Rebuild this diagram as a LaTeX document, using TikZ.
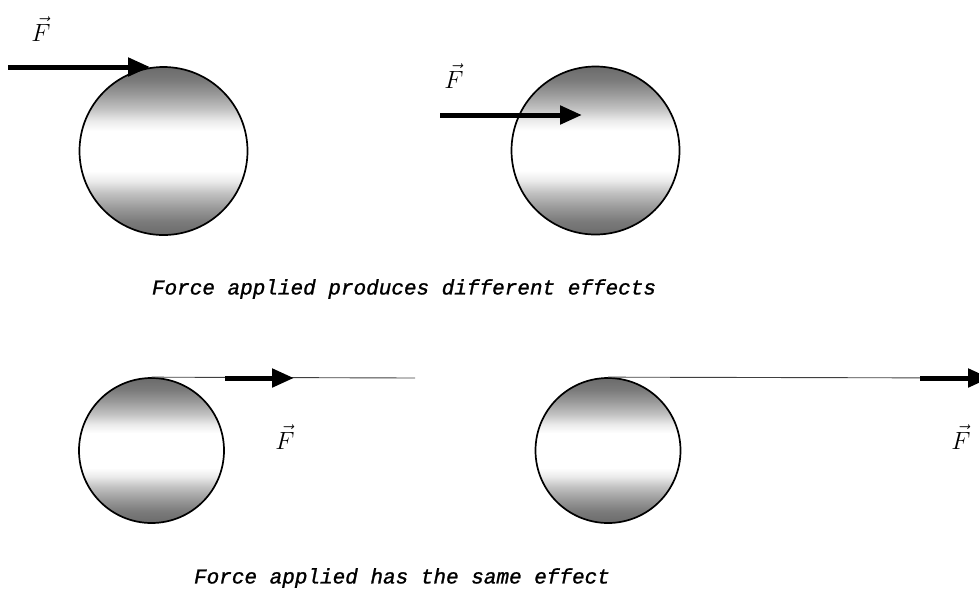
\documentclass[tikz,border=0pt]{standalone}
\usepackage{fontspec}
\newfontfamily\capfont[FakeBold=1.2]{Liberation Mono}
\usetikzlibrary{arrows.meta}
\pgfdeclareverticalshading{ballshade}{100bp}{color(0bp)=(black!58); color(25bp)=(black!58); color(29bp)=(black!52); color(33bp)=(black!40); color(37.5bp)=(black!24); color(41bp)=(black!8); color(44bp)=(white); color(56bp)=(white); color(59bp)=(black!8); color(62.5bp)=(black!24); color(67bp)=(black!40); color(71bp)=(black!52); color(75bp)=(black!58); color(100bp)=(black!58)}
\tikzset{
  ball/.style={circle, draw=black, line width=1.7pt, shading=ballshade, inner sep=0pt},
  force/.style={line width=5pt, -{Triangle[length=22pt,width=18pt]}},
  thinline/.style={line width=0.9pt, draw=black!75},
  flabel/.style={font=\fontsize{23}{26}\selectfont, inner sep=0pt},
  caption/.style={font=\capfont\itshape\fontsize{21}{24}\selectfont, inner sep=0pt}
}
\begin{document}
\begin{tikzpicture}[x=1pt,y=-1pt]
\useasboundingbox (0,0) rectangle (979,598);
% top row
\node[ball, minimum size=168pt] (b1) at (163.5,151) {};
\node[ball, minimum size=168pt] (b2) at (595.5,150.5) {};
\coordinate (a1s) at (8,67);
\coordinate (a1e) at (150,67);
\draw[force] (a1s) -- (a1e);
\node[flabel] (f1) at (41,29) {$\vec F$};
\coordinate (a2s) at (440,115);
\coordinate (a2e) at (582,115);
\draw[force] (a2s) -- (a2e);
\node[flabel] (f2) at (454,76) {$\vec F$};
\node[caption] (c1) at (404,289) {Force applied produces different effects};
% bottom row
\node[ball, minimum size=145pt] (b3) at (151.5,450.5) {};
\node[ball, minimum size=145pt] (b4) at (608,450.5) {};
\coordinate (t3) at (415,378);
\coordinate (t4) at (985,378);
\draw[thinline] (b3.north) -- (t3);
\draw[thinline] (b4.north) -- (t4);
\coordinate (a3s) at (225,378);
\coordinate (a3e) at (294,378);
\draw[force] (a3s) -- (a3e);
\coordinate (a4s) at (920,378);
\coordinate (a4e) at (990,378);
\draw[force] (a4s) -- (a4e);
\node[flabel] (f3) at (285,437) {$\vec F$};
\node[flabel] (f4) at (961,437) {$\vec F$};
\node[caption] (c2) at (402,578) {Force applied has the same effect};
\end{tikzpicture}
\end{document}
